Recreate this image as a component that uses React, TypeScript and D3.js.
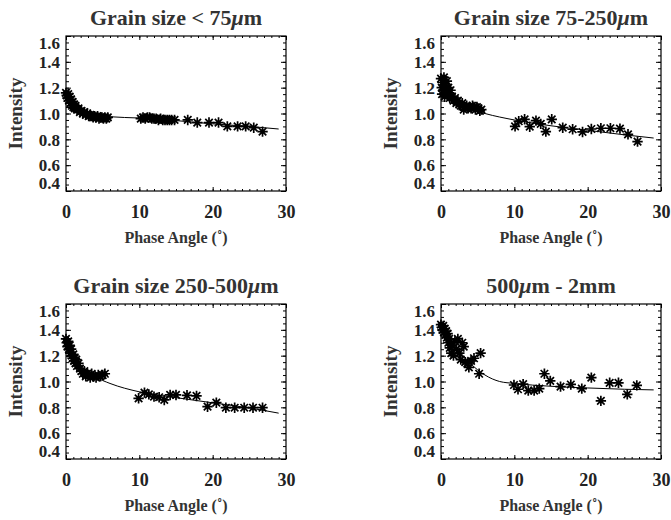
import { useEffect, useRef } from 'react';
import * as d3 from 'd3';

// measured intensity vs phase angle, one array of [angle, intensity] per grain size
const fineAngles = [0, 0.1, 0.2, 0.3, 0.4, 0.5, 0.6, 0.7, 0.8, 0.9, 1.0, 1.1, 1.2, 1.3, 1.5, 1.7, 1.9, 2.1, 2.3, 2.5, 2.7, 2.9, 3.1, 3.3, 3.5, 3.7, 3.9, 4.1, 4.3, 4.5, 4.7, 4.9, 5.1, 5.3, 5.5, 5.7,
  10.2, 10.5, 10.8, 11.1, 11.4, 11.7, 12.0, 12.3, 12.6, 12.9, 13.2, 13.5, 13.8, 14.1, 14.4, 14.8,
  16.6, 17.9, 19.5, 20.8, 22.0, 23.4, 24.5, 25.6, 26.8];
const fineValues = [1.16, 1.14, 1.12, 1.15, 1.10, 1.13, 1.08, 1.11, 1.06, 1.09, 1.05, 1.07, 1.04, 1.06, 1.03, 1.04, 1.01, 1.02, 1.00, 1.01, 0.99, 1.00, 0.98, 0.99, 0.98, 0.97, 0.98, 0.97, 0.98, 0.96, 0.97, 0.97, 0.96, 0.97, 0.96, 0.97,
  0.96, 0.97, 0.96, 0.97, 0.97, 0.96, 0.96, 0.96, 0.95, 0.96, 0.95, 0.95, 0.95, 0.95, 0.95, 0.95,
  0.95, 0.93, 0.93, 0.93, 0.90, 0.90, 0.90, 0.89, 0.86];

const smallAngles = [0, 0.1, 0.15, 0.2, 0.3, 0.4, 0.5, 0.6, 0.7, 0.8, 0.9, 1.0, 1.1, 1.2, 1.3, 1.5, 1.7, 1.9, 2.1, 2.3, 2.5, 2.7, 2.9, 3.1, 3.3, 3.5, 3.7, 3.9, 4.1, 4.3, 4.5, 4.7, 4.9, 5.1, 5.3, 5.5,
  10.1, 10.6, 11.4, 12.1, 12.95, 13.6, 14.3, 15.1, 16.6, 17.95, 19.3, 20.5, 21.8, 23.1, 24.4, 25.5, 26.8];
const smallValues = [1.27, 1.20, 1.15, 1.24, 1.18, 1.28, 1.13, 1.22, 1.17, 1.25, 1.14, 1.20, 1.16, 1.12, 1.18, 1.13, 1.10, 1.12, 1.08, 1.10, 1.07, 1.06, 1.08, 1.03, 1.05, 1.06, 1.04, 1.05, 1.04, 1.06, 1.05, 1.03, 1.05, 1.04, 1.02, 1.03,
  0.90, 0.94, 0.955, 0.898, 0.945, 0.92, 0.86, 0.955, 0.89, 0.878, 0.857, 0.88, 0.886, 0.886, 0.883, 0.839, 0.782];

const mediumAngles = [0, 0.1, 0.2, 0.3, 0.4, 0.5, 0.6, 0.7, 0.8, 0.9, 1.0, 1.1, 1.2, 1.3, 1.4, 1.5, 1.7, 1.9, 2.1, 2.3, 2.5, 2.7, 2.9, 3.1, 3.3, 3.5, 3.8, 4.1, 4.4, 4.7, 5.0, 5.3,
  9.9, 10.7, 11.3, 12.0, 12.7, 13.4, 14.2, 15.0, 16.5, 17.8, 19.3, 20.5, 21.8, 23.0, 24.3, 25.5, 26.8];
const mediumValues = [1.33, 1.30, 1.27, 1.31, 1.25, 1.28, 1.22, 1.25, 1.20, 1.18, 1.21, 1.16, 1.18, 1.14, 1.17, 1.12, 1.14, 1.10, 1.08, 1.06, 1.08, 1.04, 1.06, 1.05, 1.03, 1.06, 1.04, 1.03, 1.05, 1.04, 1.05, 1.06,
  0.87, 0.914, 0.90, 0.883, 0.878, 0.857, 0.896, 0.896, 0.893, 0.888, 0.805, 0.836, 0.797, 0.797, 0.797, 0.797, 0.797];

const coarseAngles = [0, 0.1, 0.2, 0.3, 0.4, 0.5, 0.6, 0.7, 0.8, 0.9, 1.0, 1.1, 1.2, 1.4, 1.5, 1.7, 1.9, 2.1, 2.3, 2.5, 2.7, 2.9, 3.1, 3.3, 3.6, 3.8, 4.1, 4.5, 5.2, 5.4,
  9.95, 10.5, 11.2, 11.9, 12.7, 13.4, 14.1, 14.9, 16.3, 17.7, 19.2, 20.5, 21.8, 23.0, 24.2, 25.4, 26.7];
const coarseValues = [1.44, 1.42, 1.40, 1.43, 1.38, 1.41, 1.36, 1.39, 1.34, 1.37, 1.30, 1.33, 1.26, 1.22, 1.28, 1.20, 1.31, 1.25, 1.33, 1.22, 1.17, 1.30, 1.27, 1.15, 1.14, 1.11, 1.16, 1.18, 1.06, 1.22,
  0.973, 0.94, 0.98, 0.93, 0.93, 0.945, 1.06, 1.005, 0.96, 0.977, 0.945, 1.03, 0.85, 0.99, 0.99, 0.90, 0.97];

// fitted model curves
const fitAngles = [0, 0.5, 1, 2, 3, 4, 6, 10, 15, 20, 25, 29];
const fineFit = [1.14, 1.10, 1.07, 1.03, 1.005, 0.99, 0.975, 0.965, 0.945, 0.92, 0.90, 0.88];
const smallFit = [1.27, 1.20, 1.15, 1.10, 1.06, 1.035, 1.0, 0.95, 0.905, 0.87, 0.835, 0.81];
const mediumFit = [1.30, 1.24, 1.19, 1.12, 1.07, 1.035, 0.985, 0.92, 0.875, 0.835, 0.795, 0.755];
const coarseFitAngles = [0, 1, 2, 3, 4, 5, 6, 8, 10, 15, 20, 25, 29];
const coarseFit = [1.44, 1.35, 1.27, 1.20, 1.14, 1.09, 1.05, 1.0, 0.985, 0.963, 0.95, 0.94, 0.935];

const titles = ['Grain size < 75', 'Grain size 75-250', 'Grain size 250-500', ''];
const xTicks = [0, 10, 20, 30];
const yTicks = [0.4, 0.6, 0.8, 1.0, 1.2, 1.4, 1.6];

const W = 671;
const H = 520;
const font = '"Liberation Serif", "Times New Roman", serif';

const App = () => {
  const svgRef = useRef<SVGSVGElement>(null);

  useEffect(() => {
    const svg = d3.select(svgRef.current);
    svg.selectAll('*').remove();

    const panels = [
      { left: 66, top: 36, angles: fineAngles, values: fineValues, fx: fitAngles, fy: fineFit, title: titles[0] },
      { left: 441, top: 36, angles: smallAngles, values: smallValues, fx: fitAngles, fy: smallFit, title: titles[1] },
      { left: 66, top: 304, angles: mediumAngles, values: mediumValues, fx: fitAngles, fy: mediumFit, title: titles[2] },
      { left: 441, top: 304, angles: coarseAngles, values: coarseValues, fx: coarseFitAngles, fy: coarseFit, title: titles[3] },
    ];
    const pw = 220;
    const ph = 155;

    panels.forEach((p, idx) => {
      const g = svg.append('g').attr('transform', `translate(${p.left},${p.top})`);
      const x = d3.scaleLinear().domain([0, 30]).range([0, pw]);
      const y = d3.scaleLinear().domain([0.4, 1.6]).range([ph, 0]);

      const minorX = d3.range(0, 31, 1);
      const minorY = d3.range(0.4, 1.6001, 0.05);

      const addAxis = (axis, transform) => {
        const a = g.append('g').attr('transform', transform).call(axis);
        a.select('.domain').remove();
        a.selectAll('line').attr('stroke', '#000').attr('stroke-width', 1);
        return a;
      };
      // minor ticks, pointing inward on every side
      addAxis(d3.axisBottom(x).tickValues(minorX).tickSize(-2).tickFormat(() => ''), `translate(0,${ph})`);
      addAxis(d3.axisTop(x).tickValues(minorX).tickSize(-2).tickFormat(() => ''), 'translate(0,0)');
      addAxis(d3.axisLeft(y).tickValues(minorY).tickSize(-3).tickFormat(() => ''), 'translate(0,0)');
      addAxis(d3.axisRight(y).tickValues(minorY).tickSize(-3).tickFormat(() => ''), `translate(${pw},0)`);
      // major ticks
      addAxis(d3.axisTop(x).tickValues(xTicks).tickSize(-4).tickFormat(() => ''), 'translate(0,0)');
      addAxis(d3.axisRight(y).tickValues(yTicks).tickSize(-5).tickFormat(() => ''), `translate(${pw},0)`);

      const bx = addAxis(d3.axisBottom(x).tickValues(xTicks).tickSize(-4).tickFormat(d3.format('d')), `translate(0,${ph})`);
      bx.selectAll('text')
        .attr('y', 27).attr('dy', 0)
        .style('font-family', font).style('font-size', '18px').style('font-weight', 'bold').attr('fill', '#222');

      const ly = addAxis(d3.axisLeft(y).tickValues(yTicks).tickSize(-5).tickFormat(d3.format('.1f')), 'translate(0,0)');
      ly.selectAll('text')
        .attr('x', -6).attr('dy', '0.34em')
        .style('font-family', font).style('font-size', '17px').style('font-weight', 'bold').attr('fill', '#222');
      ly.selectAll('.tick').filter(d => d === 1.6).select('text').attr('y', 7);
      ly.selectAll('.tick').filter(d => d === 0.4).select('text').attr('y', -8);

      g.append('rect').attr('width', pw).attr('height', ph)
        .attr('fill', 'none').attr('stroke', '#000').attr('stroke-width', 1.2);

      // fit curve
      const line = d3.line<number>().x((d, i) => x(p.fx[i])).y(d => y(d)).curve(d3.curveMonotoneX);
      g.append('path').attr('d', line(p.fy)).attr('fill', 'none').attr('stroke', '#000').attr('stroke-width', 1);

      // asterisk markers
      const r = 5.2;
      const dd = r * 0.72;
      const star = `M${-r},0L${r},0M0,${-r}L0,${r}M${-dd},${-dd}L${dd},${dd}M${-dd},${dd}L${dd},${-dd}`;
      g.selectAll('path.pt')
        .data(p.angles.map((a, i) => [a, p.values[i]]))
        .join('path')
        .attr('class', 'pt')
        .attr('transform', d => `translate(${x(d[0])},${y(d[1])})`)
        .attr('d', star)
        .attr('stroke', '#000')
        .attr('stroke-width', 1.7)
        .attr('fill', 'none');

      // titles
      const t = g.append('text')
        .attr('x', pw / 2).attr('y', -11)
        .attr('text-anchor', 'middle')
        .style('font-family', font).style('font-size', '22px').style('font-weight', 'bold').attr('fill', '#333');
      if (idx < 3) {
        t.append('tspan').text(p.title);
        t.append('tspan').style('font-style', 'italic').text('\u03bc');
        t.append('tspan').text('m');
      } else {
        t.append('tspan').text('500');
        t.append('tspan').style('font-style', 'italic').text('\u03bc');
        t.append('tspan').text('m - 2mm');
      }

      g.append('text')
        .attr('x', pw / 2).attr('y', ph + 52)
        .attr('text-anchor', 'middle')
        .style('font-family', font).style('font-size', '16px').style('font-weight', 'bold').attr('fill', '#333')
        .text('Phase Angle (\u02da)');

      g.append('text')
        .attr('transform', `translate(-44,${ph / 2}) rotate(-90)`)
        .attr('text-anchor', 'middle')
        .style('font-family', font).style('font-size', '19px').style('font-weight', 'bold').attr('fill', '#333')
        .text('Intensity');
    });
  }, []);

  return (
    <svg ref={svgRef} width={W} height={H}
      style={{ position: 'absolute', left: 0, top: 0, background: '#fff', display: 'block' }} />
  );
};

export default App;
